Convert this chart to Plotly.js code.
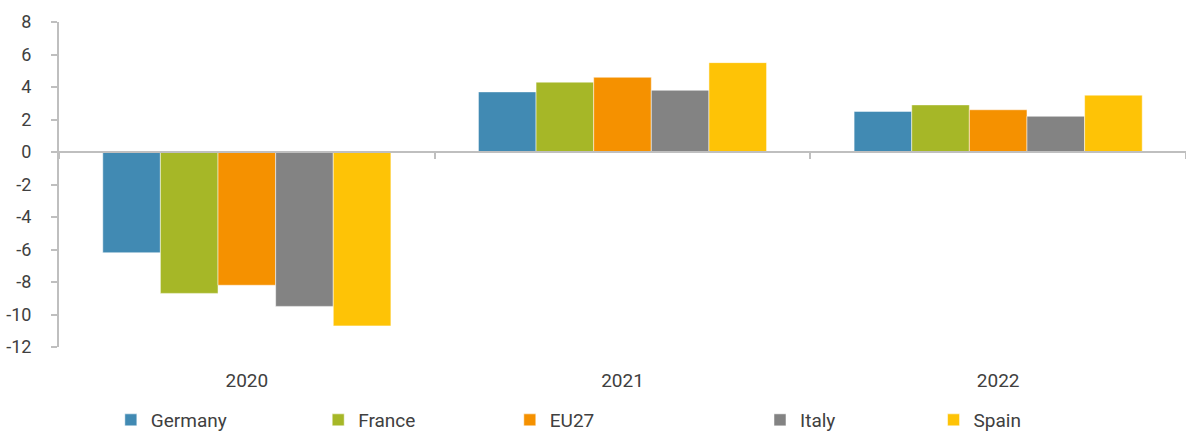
<!DOCTYPE html>
<html>
<head>
<meta charset="utf-8">
<script src="https://cdn.plot.ly/plotly-3.0.1.min.js"></script>
<style>html,body{margin:0;padding:0;background:#fff;}#chart{width:1186px;height:439px;}</style>
</head>
<body>
<div id="chart"></div>
<script>
const years = ['2020', '2021', '2022'];
const seriesNames = ['Germany', 'France', 'EU27', 'Italy', 'Spain'];
const germany = [-6.2, 3.7, 2.5];
const france = [-8.7, 4.3, 2.9];
const eu27 = [-8.2, 4.6, 2.6];
const italy = [-9.5, 3.8, 2.2];
const spain = [-10.7, 5.5, 3.5];
const yTicks = [8, 6, 4, 2, 0, -2, -4, -6, -8, -10, -12];

const colors = ['#418AB3', '#A6B727', '#F59100', '#838383', '#FEC306'];
const values = [germany, france, eu27, italy, spain];
const fontFam = 'Roboto, "Liberation Sans", Arial, sans-serif';
const legendIds = ['legend', 'legend2', 'legend3', 'legend4', 'legend5'];
const legendX = [0.046, 0.230, 0.400, 0.622, 0.776];

const traces = values.map((v, i) => ({
  type: 'bar',
  x: years,
  y: v,
  name: seriesNames[i],
  legend: legendIds[i],
  marker: {color: colors[i], line: {color: 'rgba(255,255,255,0.5)', width: 1}},
  hoverinfo: 'x+y+name'
}));

const layout = {
  width: 1186, height: 439,
  margin: {l: 59, r: 0, t: 22, b: 92},
  paper_bgcolor: '#fff', plot_bgcolor: '#fff',
  barmode: 'group',
  bargap: 0.233,
  bargroupgap: 0,
  font: {family: fontFam, color: '#404040'},
  xaxis: {
    type: 'category', categoryarray: years,
    showline: false, showgrid: false, zeroline: false,
    ticks: '', tickfont: {size: 19, color: '#404040', family: fontFam},
    ticklabelstandoff: 20
  },
  xaxis2: {
    overlaying: 'x', anchor: 'free', position: 0.6,
    type: 'category', categoryarray: years, range: [-0.5, 2.5],
    tickson: 'boundaries', ticks: 'outside', ticklen: 6, tickcolor: '#BFBFBF', tickwidth: 2,
    showticklabels: false, showline: true, linecolor: '#BFBFBF', linewidth: 2,
    showgrid: false, zeroline: false
  },
  yaxis: {
    range: [-12, 8], tickvals: yTicks, ticktext: yTicks.map(String),
    showgrid: false, zeroline: false,
    showline: true, linecolor: '#BFBFBF', linewidth: 2,
    ticks: 'outside', ticklen: 6, tickcolor: '#BFBFBF', tickwidth: 2,
    tickfont: {size: 18, color: '#404040', family: fontFam},
    ticklabelstandoff: 16
  },
  showlegend: true
};

legendIds.forEach((id, i) => {
  layout[id] = {
    orientation: 'h', x: legendX[i], xanchor: 'left',
    yref: 'container', y: -0.02, yanchor: 'bottom',
    itemwidth: 30,
    font: {size: 19, color: '#404040', family: fontFam},
    itemclick: false, bgcolor: 'rgba(0,0,0,0)'
  };
});

const dummy = {type: 'scatter', x: years, y: [null, null, null], xaxis: 'x2', showlegend: false, hoverinfo: 'skip'};

Plotly.newPlot('chart', traces.concat([dummy]), layout, {displayModeBar: false, staticPlot: true});
</script>
</body>
</html>
